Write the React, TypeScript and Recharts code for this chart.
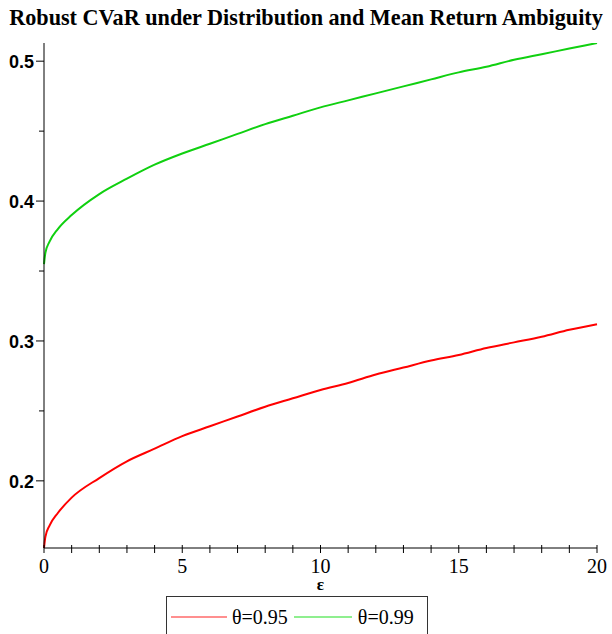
import { LineChart, Line, XAxis, YAxis } from 'recharts';

// epsilon values sampled along the x axis
const epsilon = [0, 0.05, 0.2, 0.5, 1, 2, 3, 4, 5, 6, 7, 8, 9, 10, 11, 12, 13, 14, 15, 16, 17, 18, 19, 20];
// theta = 0.95 (red)
const cvar95 = [0.152, 0.16, 0.168, 0.177, 0.188, 0.202, 0.214, 0.223, 0.232, 0.239, 0.246, 0.253, 0.259, 0.265, 0.27, 0.276, 0.281, 0.286, 0.29, 0.295, 0.299, 0.303, 0.308, 0.312];
// theta = 0.99 (green)
const cvar99 = [0.355, 0.363, 0.371, 0.38, 0.39, 0.405, 0.416, 0.426, 0.434, 0.441, 0.448, 0.455, 0.461, 0.467, 0.472, 0.477, 0.482, 0.487, 0.492, 0.496, 0.501, 0.505, 0.509, 0.513];

const xTicks = Array.from({ length: 21 }, (_, i) => i);
const xMajor = [0, 5, 10, 15, 20];
const yTicks = [0.2, 0.25, 0.3, 0.35, 0.4, 0.45, 0.5];
const yMajor = [0.2, 0.3, 0.4, 0.5];

const data = epsilon.map((e, i) => ({ e, a: cvar95[i], b: cvar99[i] }));

const isMajor = (list: number[], v: number) => list.some((m) => Math.abs(m - v) < 1e-9);

function XTick({ x, y, payload }: any) {
  const major = isMajor(xMajor, payload.value);
  return (
    <g>
      <line x1={x} y1={y - 3} x2={x} y2={y + 5} stroke="#000" strokeWidth={1} />
      {major && (
        <text x={x} y={y + 25} textAnchor="middle" fontFamily="Liberation Serif" fontSize={20} fill="#000">
          {payload.value}
        </text>
      )}
    </g>
  );
}

function YTick({ x, y, payload }: any) {
  const major = isMajor(yMajor, payload.value);
  return (
    <g>
      <line x1={x} y1={y} x2={x - (major ? 8 : 5)} y2={y} stroke="#000" strokeWidth={1} />
      {major && (
        <text x={x - 10} y={y + 7} textAnchor="end" fontFamily="Liberation Sans" fontWeight="bold" fontSize={18} fill="#000">
          {payload.value.toFixed(1)}
        </text>
      )}
    </g>
  );
}

function LegendBox() {
  return (
    <div
      style={{
        position: 'absolute',
        top: 596,
        left: 166,
        width: 262,
        height: 44,
        border: '1px solid #333',
        boxSizing: 'border-box',
        display: 'flex',
        alignItems: 'flex-start',
        paddingTop: 9,
        paddingLeft: 4,
        fontFamily: 'Liberation Serif',
        fontSize: 20,
        lineHeight: '22px',
        color: '#000',
      }}
    >
      <svg width={56} height={22} style={{ marginRight: 5 }}>
        <line x1={0} y1={11} x2={56} y2={11} stroke="#ff2020" strokeWidth={1.2} />
      </svg>
      <span style={{ marginRight: 6 }}>θ=0.95</span>
      <svg width={58} height={22} style={{ marginRight: 6 }}>
        <line x1={0} y1={11} x2={58} y2={11} stroke="#20e020" strokeWidth={1.2} />
      </svg>
      <span>θ=0.99</span>
    </div>
  );
}

export default function App() {
  return (
    <div style={{ position: 'relative', width: 612, height: 634, background: '#fff', overflow: 'hidden' }}>
      <style>{'html, body { margin: 0; padding: 0; overflow: hidden; } .recharts-surface, .recharts-wrapper { overflow: visible !important; }'}</style>
      <div
        style={{
          position: 'absolute',
          top: 5,
          left: 0,
          width: 612,
          textAlign: 'center',
          fontFamily: 'Liberation Serif',
          fontWeight: 'bold',
          fontSize: 22.2,
          color: '#000',
          whiteSpace: 'nowrap',
        }}
      >
        Robust CVaR under Distribution and Mean Return Ambiguity
      </div>
      <LineChart width={612} height={634} data={data} margin={{ top: 43, right: 15, bottom: 0, left: 0 }}>
        <XAxis
          dataKey="e"
          type="number"
          domain={[0, 20]}
          ticks={xTicks}
          interval={0}
          tick={<XTick />}
          tickLine={false}
          tickSize={0}
          tickMargin={0}
          axisLine={{ stroke: '#000' }}
          height={86}
          label={{ value: 'ε', position: 'insideTop', offset: 30, fontFamily: 'Liberation Serif', fontWeight: 'bold', fontSize: 17, fill: '#000' }}
        />
        <YAxis
          type="number"
          domain={[0.152, 0.513]}
          allowDataOverflow
          ticks={yTicks}
          interval={0}
          tick={<YTick />}
          tickLine={false}
          tickSize={0}
          tickMargin={0}
          axisLine={{ stroke: '#000' }}
          width={44}
        />
        <Line type="monotone" dataKey="a" stroke="#ff0000" strokeWidth={2} dot={false} isAnimationActive={false} />
        <Line type="monotone" dataKey="b" stroke="#10d010" strokeWidth={2} dot={false} isAnimationActive={false} />
      </LineChart>
      <LegendBox />
    </div>
  );
}
